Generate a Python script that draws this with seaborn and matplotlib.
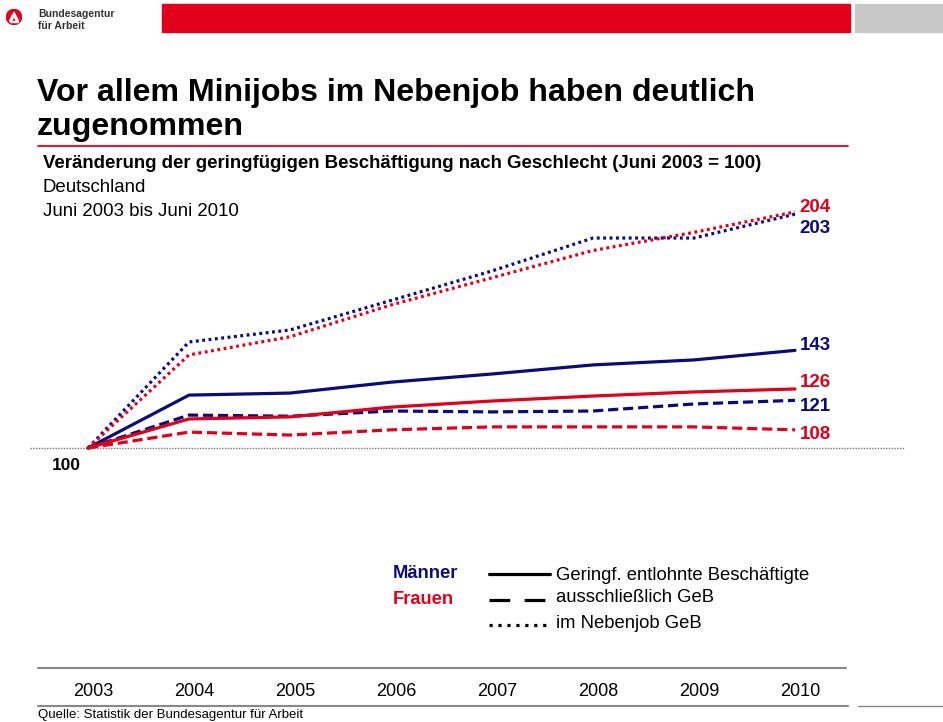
import numpy as np
import pandas as pd
import matplotlib
matplotlib.use("Agg")
import matplotlib.pyplot as plt
from matplotlib.lines import Line2D
from matplotlib.patches import Rectangle, Circle, Polygon
import seaborn as sns

# data: index values, Juni 2003 = 100
years = [2003, 2004, 2005, 2006, 2007, 2008, 2009, 2010]
m_geringf = [100, 123.3, 124.2, 129, 132.6, 136.6, 138.8, 143]
m_ausschl = [100, 114.5, 114, 116.3, 115.9, 116.3, 119.4, 121]
m_neben = [100, 146.7, 152, 165, 178, 192.5, 192.5, 203]
f_geringf = [100, 112.8, 113.7, 118, 120.7, 122.9, 124.7, 126]
f_ausschl = [100, 107, 105.7, 108, 109.3, 109.3, 109.3, 108]
f_neben = [100, 141, 149, 163, 175, 187, 195, 204]

kinds = ["Geringf. entlohnte Beschäftigte", "ausschließlich GeB", "im Nebenjob GeB"]
genders = ["Männer", "Frauen"]

NAVY = "#0B0B7A"
RED = "#E2001A"
GREY = "#C8C8C8"

rows = []
for g, series in zip(genders, [[m_geringf, m_ausschl, m_neben], [f_geringf, f_ausschl, f_neben]]):
    for k, vals in zip(kinds, series):
        for y, v in zip(years, vals):
            rows.append({"Jahr": y, "Wert": v, "Geschlecht": g, "Art": k})
df = pd.DataFrame(rows)

sns.set_style("white")
plt.rcParams["font.family"] = ["Liberation Sans", "DejaVu Sans"]
plt.rcParams["text.color"] = "black"
plt.rcParams["xtick.color"] = "black"
NARROW = ["Liberation Sans Narrow", "Liberation Sans", "DejaVu Sans"]

W, H = 943, 722
fig = plt.figure(figsize=(W / 100, H / 100), dpi=100)


def fx(px):
    return px / W


def fy(py):
    return 1 - py / H


# main axes: x 30..905 px, y 200..668 px
ax = fig.add_axes([fx(30), fy(668), fx(905) - fx(30), fy(200) - fy(668)])
ax.axhline(100, color="#777777", ls=(0, (1, 1)), lw=1.0, zorder=1)

dashes = {kinds[0]: "", kinds[1]: (3.2, 1.5), kinds[2]: (0.9, 1.1)}
sns.lineplot(data=df, x="Jahr", y="Wert", hue="Geschlecht", style="Art",
             palette={"Männer": NAVY, "Frauen": RED}, dashes=dashes,
             linewidth=2.3, legend=False, ax=ax, zorder=3)

ax.set_xlim(2003 - 58 / 101, 2010 + 110 / 101)
ax.set_ylim(100 - 220 / 2.27, 100 + 248 / 2.27)
ax.set_xticks([y + 0.05 for y in years])
ax.set_xticklabels([str(y) for y in years], fontsize=13, family=NARROW)
ax.tick_params(axis="x", length=0, pad=11)
ax.set_yticks([])
ax.set_xlabel("")
ax.set_ylabel("")
for s in ax.spines.values():
    s.set_visible(False)

# end labels
end_labels = [(f_neben[-1], RED, -4), (m_neben[-1], NAVY, 14), (m_geringf[-1], NAVY, -5),
              (f_geringf[-1], RED, -6), (m_ausschl[-1], NAVY, 6), (f_ausschl[-1], RED, 5)]
for v, c, dy in end_labels:
    ax.annotate(f"{v:.0f}", xy=(2010, v), xytext=(3.5, -dy * 0.72), textcoords="offset points",
                ha="left", va="center", color=c, fontsize=13.5, fontweight="bold")
ax.annotate("100", xy=(2003, 100), xytext=(-36 * 0.72, -17 * 0.72), textcoords="offset points",
            ha="left", va="center", color="black", fontsize=12.5, fontweight="bold")

# header
fig.patches.append(Rectangle((fx(162), fy(32)), fx(850) - fx(162), fy(4) - fy(32),
                             transform=fig.transFigure, color=RED, zorder=0))
fig.patches.append(Rectangle((fx(855), fy(32)), fx(943) - fx(855), fy(4) - fy(32),
                             transform=fig.transFigure, color=GREY, zorder=0))
lax = fig.add_axes([fx(6), fy(28), fx(22) - fx(6), fy(6) - fy(28)])
lax.set_xlim(-1, 1)
lax.set_ylim(-1, 1)
lax.set_aspect("equal")
lax.axis("off")
lax.add_patch(Circle((0, 0), 0.95, color=RED))
lax.add_patch(Polygon([(-0.55, -0.5), (0.0, 0.6), (0.55, -0.5), (0.3, -0.5), (0.0, 0.1), (-0.3, -0.5)],
                      closed=True, color="white"))
lax.add_patch(Rectangle((-0.55, -0.62), 1.1, 0.16, color="white"))
fig.text(fx(38), fy(14), "Bundesagentur", fontsize=7.5, fontweight="bold", color="#333333", va="center")
fig.text(fx(38), fy(26), "für Arbeit", fontsize=7.5, fontweight="bold", color="#333333", va="center")

# title
fig.text(fx(37), fy(93), "Vor allem Minijobs im Nebenjob haben deutlich", fontsize=23.1,
         fontweight="bold", va="center")
fig.text(fx(37), fy(127), "zugenommen", fontsize=23.1, fontweight="bold", va="center")
fig.add_artist(Line2D([fx(38), fx(848)], [fy(146), fy(146)], color=RED, lw=1.3))
fig.text(fx(43), fy(164), "Veränderung der geringfügigen Beschäftigung nach Geschlecht (Juni 2003 = 100)",
         fontsize=13.4, fontweight="bold", va="center")
fig.text(fx(43), fy(187), "Deutschland", fontsize=13.4, va="center")
fig.text(fx(43), fy(211), "Juni 2003 bis Juni 2010", fontsize=13.4, va="center")

# legend
fig.text(fx(393), fy(574), "Männer", fontsize=13.2, fontweight="bold", color=NAVY, va="center")
fig.text(fx(393), fy(599), "Frauen", fontsize=13.2, fontweight="bold", color=RED, va="center")
leg_dashes = [None, (6.5, 4.5), (1.0, 1.8)]
for py, d in zip([574, 600, 625], leg_dashes):
    ln = Line2D([fx(489), fx(550)], [fy(py), fy(py)], color="black", lw=2.3)
    if d is not None:
        ln.set_dashes(d)
    fig.add_artist(ln)
for py, k in zip([576, 598, 624], kinds):
    fig.text(fx(556), fy(py), k, fontsize=13.3, va="center")

# bottom rules
fig.add_artist(Line2D([fx(38), fx(846)], [fy(668), fy(668)], color="#888888", lw=1.5))
fig.add_artist(Line2D([fx(38), fx(848)], [fy(706), fy(706)], color="#888888", lw=1.5))
fig.add_artist(Line2D([fx(858), fx(943)], [fy(706), fy(706)], color="#888888", lw=1.0))
fig.text(fx(38), fy(715), "Quelle: Statistik der Bundesagentur für Arbeit", fontsize=9.5, va="center",
         family=NARROW)

fig.savefig("out.png", dpi=100)
